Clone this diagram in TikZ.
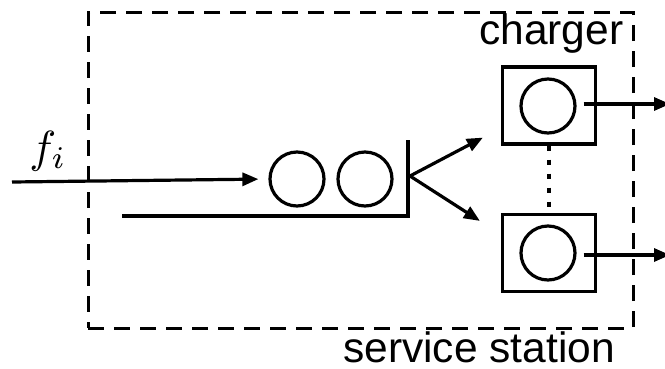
\documentclass[tikz,border=0pt]{standalone}
\usepackage{fontspec}
\setsansfont{Liberation Sans}
\usetikzlibrary{arrows.meta,calc}
\tikzset{
  lw/.style={line width=3.2pt},
  arr/.style={lw,-{Triangle[length=16pt,width=13pt]}},
  srvcircle/.style={draw,lw,circle,minimum size=54pt,inner sep=0pt},
  srvbox/.style={draw,lw,rectangle,minimum width=93pt,minimum height=77pt,inner sep=0pt},
  lbl/.style={inner sep=0pt,font=\sffamily\fontsize{42.5}{42.5}\selectfont},
  station/.style={line width=3pt,dash pattern=on 16pt off 10pt},
}
\begin{document}
\begin{tikzpicture}[x=1pt,y=-1pt]
\useasboundingbox (0,0) rectangle (665,368);
% service station boundary
\node[draw,station,rectangle,minimum width=545pt,minimum height=316pt,inner sep=0pt] (st) at (360.5,170) {};
\node[lbl,anchor=base west] (stname) at (343,362) {service station};
% arrival stream
\coordinate (src) at (12,182);
\node[inner sep=0pt,anchor=base] (fi) at (48,162) {\scalebox{4.5}{$f_i$}};
% waiting queue
\node[srvcircle] (q1) at (297,179) {};
\node[srvcircle] (q2) at (365,179) {};
\coordinate (wtop) at (408,140);
\coordinate (wbot) at (408,216);
\coordinate (qend) at (122,216);
\draw[lw] (wtop) -- (wbot) -- (qend);
\draw[arr,shorten >=10pt] (src) -- (q1.west);
% dispatch to chargers
\coordinate (split) at (410,176);
\node[srvbox] (b1) at (549,105.5) {};
\node[srvbox] (b2) at (549,253) {};
\node[srvcircle] (s1) at (548,106) {};
\node[srvcircle] (s2) at (548,253) {};
\draw[arr] (split) -- ($(b1.south west)+(-18,-8)$) coordinate (t1);
\draw[arr] (split) -- ($(b2.north west)+(-21,8)$) coordinate (t2);
\draw[lw,dash pattern=on 5pt off 9pt] (b1.south) -- (b2.north);
\node[lbl,anchor=base west] (chg) at (479,44) {charger};
% departures
\coordinate (o1) at (670,104);
\coordinate (o2) at (670,255);
\draw[arr] ($(s1.east)+(7,-2)$) -- (o1);
\draw[arr] ($(s2.east)+(7,2)$) -- (o2);
\end{tikzpicture}
\end{document}
